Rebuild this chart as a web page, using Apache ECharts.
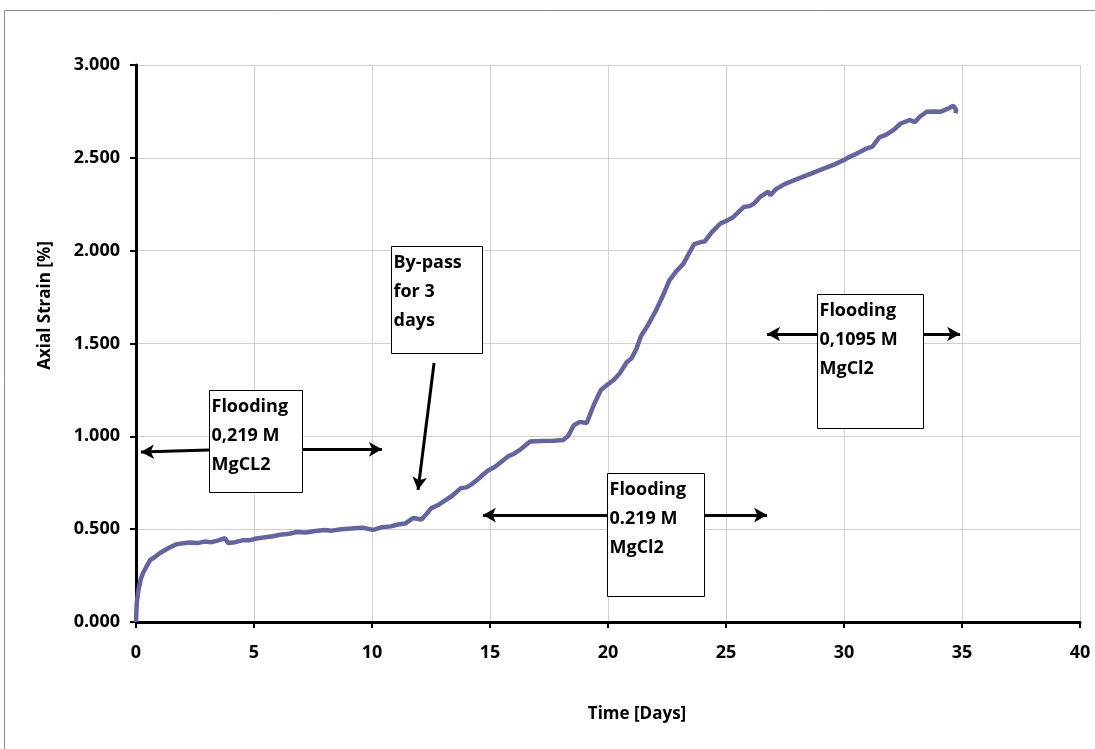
<!DOCTYPE html>
<html>
<head>
<meta charset="utf-8">
<script src="https://cdn.jsdelivr.net/npm/echarts@6/dist/echarts.min.js"></script>
<style>
  html, body { margin: 0; padding: 0; background: #fff; }
  #chart { width: 1095px; height: 749px; }
</style>
</head>
<body>
<div id="chart"></div>
<script>
// Axial strain measured over time during the flooding test
const timeDays = [
  0, 0.03, 0.1, 0.2, 0.3, 0.45, 0.6, 0.8, 1.0, 1.2, 1.4, 1.7, 2.0, 2.3, 2.6, 2.9, 3.2, 3.5, 3.77, 3.9,
  4.2, 4.5, 4.8, 5.1, 5.4, 5.8, 6.1, 6.5, 6.8, 7.2, 7.6, 8.0, 8.3, 8.7, 9.1, 9.6, 10.05, 10.4, 10.8, 11.1,
  11.4, 11.74, 12.1, 12.3, 12.5, 12.8, 13.1, 13.4, 13.75, 14.0, 14.2, 14.5, 14.9, 15.2, 15.5, 15.8, 16.0, 16.3, 16.7, 17.2,
  17.7, 18.1, 18.3, 18.55, 18.8, 19.1, 19.4, 19.7, 20.0, 20.25, 20.5, 20.8, 21.0, 21.2, 21.4, 21.65, 22.0, 22.3, 22.6, 22.9,
  23.2, 23.45, 23.65, 23.9, 24.1, 24.4, 24.75, 25.0, 25.3, 25.5, 25.75, 26.0, 26.2, 26.45, 26.79, 26.88, 27.1, 27.5, 27.9, 28.3,
  28.6, 29.0, 29.3, 29.6, 30.0, 30.15, 30.5, 30.96, 31.2, 31.5, 31.8, 32.1, 32.4, 32.8, 33.0, 33.2, 33.5, 33.8, 34.1, 34.4,
  34.63, 34.75, 34.72
];
const strainPct = [
  0, 0.10, 0.17, 0.23, 0.264, 0.30, 0.334, 0.35, 0.37, 0.385, 0.40, 0.418, 0.424, 0.428, 0.425, 0.433, 0.430, 0.440, 0.452, 0.425,
  0.430, 0.440, 0.440, 0.450, 0.455, 0.462, 0.470, 0.475, 0.485, 0.482, 0.490, 0.495, 0.492, 0.500, 0.503, 0.508, 0.496, 0.510, 0.515, 0.525,
  0.530, 0.560, 0.552, 0.580, 0.612, 0.630, 0.655, 0.680, 0.720, 0.725, 0.740, 0.770, 0.815, 0.835, 0.865, 0.895, 0.905, 0.930, 0.972, 0.975,
  0.976, 0.980, 1.000, 1.060, 1.078, 1.072, 1.170, 1.250, 1.280, 1.305, 1.340, 1.400, 1.420, 1.470, 1.540, 1.590, 1.670, 1.750, 1.840, 1.890,
  1.930, 1.990, 2.035, 2.045, 2.050, 2.100, 2.145, 2.160, 2.180, 2.205, 2.235, 2.240, 2.255, 2.290, 2.318, 2.298, 2.330, 2.360, 2.380, 2.400,
  2.415, 2.435, 2.450, 2.465, 2.488, 2.500, 2.520, 2.550, 2.560, 2.610, 2.625, 2.650, 2.685, 2.704, 2.692, 2.720, 2.748, 2.750, 2.748, 2.765,
  2.780, 2.760, 2.740
];

// Tick settings
const xTicks = { min: 0, max: 40, interval: 5 };
const yTicks = { min: 0, max: 3, interval: 0.5 };

// Annotation boxes: text and corners in data units [days, %]
const noteTexts = [
  'Flooding\n0,219 M\nMgCL2',
  'By-pass\nfor 3\ndays',
  'Flooding\n0.219 M\nMgCl2',
  'Flooding\n0,1095 M\nMgCl2'
];
const noteTopLeft = [[3.09, 1.25], [10.8, 2.025], [19.96, 0.80], [28.86, 1.767]];
const noteBottomRight = [[7.03, 0.70], [14.66, 1.448], [24.07, 0.135], [33.35, 1.045]];

// Arrows: start and tip in data units
const arrowFrom = [[3.09, 0.926], [7.03, 0.930], [12.63, 1.395], [19.96, 0.576], [24.07, 0.576], [28.86, 1.551], [33.35, 1.551]];
const arrowTo = [[0.21, 0.915], [10.42, 0.930], [11.95, 0.711], [14.70, 0.576], [26.74, 0.576], [26.74, 1.551], [34.92, 1.551]];

const FONT = '"Open Sans", "Noto Sans", sans-serif';
const chart = echarts.init(document.getElementById('chart'), null, { renderer: 'canvas' });

const seriesData = timeDays.map((t, i) => [t, strainPct[i]]);

chart.setOption({
  animation: false,
  backgroundColor: '#ffffff',
  grid: { left: 136, right: 15, top: 65, bottom: 127, containLabel: false },
  xAxis: {
    type: 'value',
    min: xTicks.min, max: xTicks.max, interval: xTicks.interval,
    name: 'Time [Days]',
    nameLocation: 'middle',
    nameGap: 84,
    nameTextStyle: { fontFamily: FONT, fontWeight: 'bold', fontSize: 17, color: '#000', padding: [0, 0, 0, 58] },
    axisLine: { show: true, onZero: false, lineStyle: { color: '#000', width: 3 } },
    axisTick: { show: true, inside: false, length: 6, lineStyle: { color: '#000', width: 2 } },
    axisLabel: { fontFamily: FONT, fontWeight: 'bold', fontSize: 18, color: '#000', margin: 22 },
    splitLine: { show: true, lineStyle: { color: '#d0d0d0', width: 1 } }
  },
  yAxis: {
    type: 'value',
    min: yTicks.min, max: yTicks.max, interval: yTicks.interval,
    name: 'Axial Strain [%]',
    nameLocation: 'middle',
    nameGap: 82,
    nameTextStyle: { fontFamily: FONT, fontWeight: 'bold', fontSize: 17, color: '#000', padding: [0, 0, 0, 76] },
    axisLine: { show: true, lineStyle: { color: '#000', width: 3 } },
    axisTick: { show: true, inside: false, length: 6, lineStyle: { color: '#000', width: 2 } },
    axisLabel: { fontFamily: FONT, fontWeight: 'bold', fontSize: 18, color: '#000', margin: 16,
      formatter: v => v.toFixed(3) },
    splitLine: { show: true, lineStyle: { color: '#d0d0d0', width: 1 } }
  },
  series: [{
    type: 'line',
    data: seriesData,
    showSymbol: false,
    smooth: false,
    lineStyle: { color: '#64649e', width: 4.5 },
    z: 3,
    markLine: {
      silent: true,
      symbol: ['none', 'arrow'],
      symbolSize: [11, 13],
      label: { show: false },
      lineStyle: { color: '#000', width: 3, type: 'solid' },
      emphasis: { disabled: true },
      data: arrowFrom.map((f, i) => [{ coord: f }, { coord: arrowTo[i] }])
    }
  }]
});

// Outer chart frame and annotation boxes
function drawNotes() {
  const els = [{
    type: 'rect',
    shape: { x: 4.5, y: 10.5, width: 1200, height: 1000 },
    style: { fill: 'none', stroke: '#8c8c8c', lineWidth: 1 },
    z: 0, silent: true
  }];
  noteTexts.forEach((txt, i) => {
    const p0 = chart.convertToPixel({ gridIndex: 0 }, noteTopLeft[i]);
    const p1 = chart.convertToPixel({ gridIndex: 0 }, noteBottomRight[i]);
    const x = Math.round(p0[0]) + 0.5, y = Math.round(p0[1]) + 0.5;
    const w = Math.round(p1[0] - p0[0]), h = Math.round(p1[1] - p0[1]);
    els.push({
      type: 'rect',
      shape: { x: x, y: y, width: w, height: h },
      style: { fill: '#fff', stroke: '#000', lineWidth: 1 },
      z: 100, silent: true
    });
    els.push({
      type: 'text',
      x: x + 2, y: y + 2,
      style: {
        text: txt, fill: '#000',
        font: 'bold 18px ' + FONT,
        lineHeight: 29,
        textAlign: 'left', textVerticalAlign: 'top'
      },
      z: 101, silent: true
    });
  });
  chart.setOption({ graphic: els });
}
drawNotes();
</script>
</body>
</html>
